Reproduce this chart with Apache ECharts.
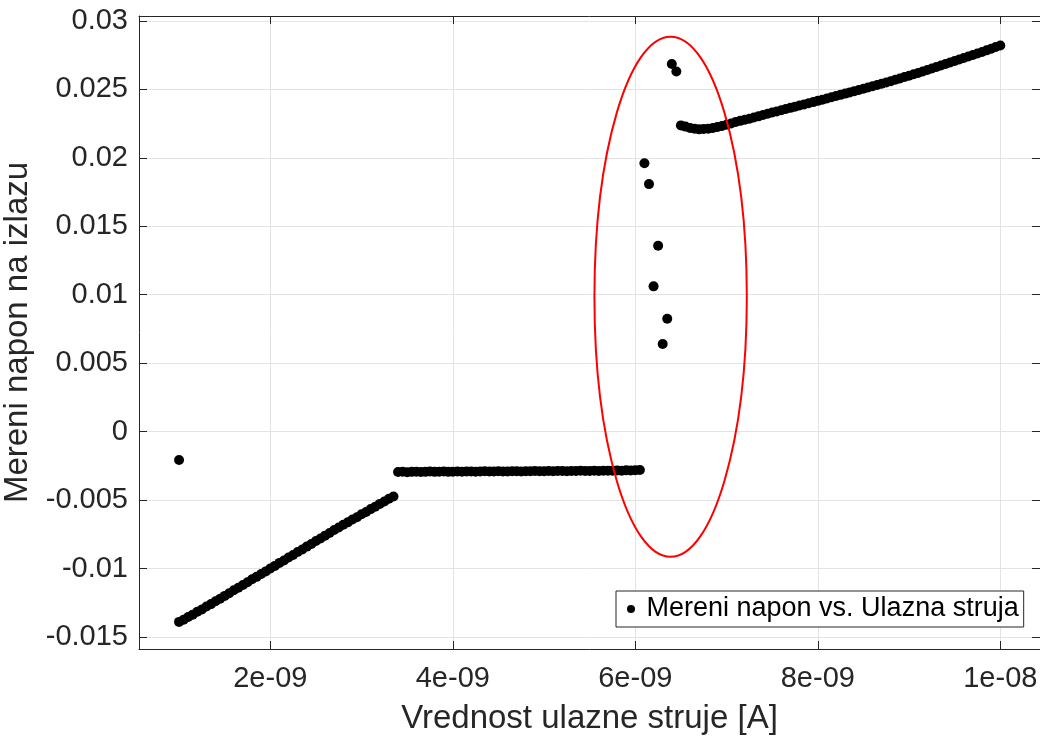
<!DOCTYPE html>
<html>
<head>
<meta charset="utf-8">
<script src="https://cdn.jsdelivr.net/npm/echarts@6/dist/echarts.min.js"></script>
<style>html,body{margin:0;padding:0;background:#fff;}#chart{width:1040px;height:736px;}</style>
</head>
<body>
<div id="chart"></div>
<script>
// ---------- data (current in A, voltage in V) ----------
const glitchCurrent = [1.00e-9];
const glitchVoltage = [-0.00207];

const rampCurrent = [1.00e-9,1.05e-9,1.10e-9,1.15e-9,1.20e-9,1.25e-9,1.30e-9,1.35e-9,1.40e-9,1.45e-9,
  1.50e-9,1.55e-9,1.60e-9,1.65e-9,1.70e-9,1.75e-9,1.80e-9,1.85e-9,1.90e-9,1.95e-9,
  2.00e-9,2.05e-9,2.10e-9,2.15e-9,2.20e-9,2.25e-9,2.30e-9,2.35e-9,2.40e-9,2.45e-9,
  2.50e-9,2.55e-9,2.60e-9,2.65e-9,2.70e-9,2.75e-9,2.80e-9,2.85e-9,2.90e-9,2.95e-9,
  3.00e-9,3.05e-9,3.10e-9,3.15e-9,3.20e-9,3.25e-9,3.30e-9,3.35e-9];
const rampVoltage = [-0.01390,-0.01374,-0.01354,-0.01337,-0.01316,-0.01299,-0.01278,-0.01260,-0.01239,-0.01221,
  -0.01200,-0.01181,-0.01159,-0.01141,-0.01120,-0.01101,-0.01079,-0.01061,-0.01040,-0.01021,
  -0.01000,-0.00981,-0.00959,-0.00941,-0.00920,-0.00901,-0.00879,-0.00861,-0.00840,-0.00821,
  -0.00799,-0.00781,-0.00760,-0.00741,-0.00719,-0.00701,-0.00680,-0.00663,-0.00642,-0.00625,
  -0.00604,-0.00587,-0.00566,-0.00549,-0.00528,-0.00511,-0.00491,-0.00474];

const plateauCurrent = [3.40e-9,3.45e-9,3.50e-9,3.55e-9,3.60e-9,3.65e-9,3.70e-9,3.75e-9,3.80e-9,3.85e-9,
  3.90e-9,3.95e-9,4.00e-9,4.05e-9,4.10e-9,4.15e-9,4.20e-9,4.25e-9,4.30e-9,4.35e-9,
  4.40e-9,4.45e-9,4.50e-9,4.55e-9,4.60e-9,4.65e-9,4.70e-9,4.75e-9,4.80e-9,4.85e-9,
  4.90e-9,4.95e-9,5.00e-9,5.05e-9,5.10e-9,5.15e-9,5.20e-9,5.25e-9,5.30e-9,5.35e-9,
  5.40e-9,5.45e-9,5.50e-9,5.55e-9,5.60e-9,5.65e-9,5.70e-9,5.75e-9,5.80e-9,5.85e-9,
  5.90e-9,5.95e-9,6.00e-9,6.05e-9];
const plateauVoltage = [-0.00295,-0.00293,-0.00296,-0.00294,-0.00293,-0.00295,-0.00294,-0.00292,-0.00294,-0.00293,
  -0.00292,-0.00294,-0.00293,-0.00291,-0.00293,-0.00292,-0.00291,-0.00293,-0.00292,-0.00290,
  -0.00292,-0.00291,-0.00290,-0.00292,-0.00291,-0.00289,-0.00290,-0.00291,-0.00289,-0.00290,
  -0.00288,-0.00290,-0.00289,-0.00288,-0.00289,-0.00287,-0.00288,-0.00289,-0.00287,-0.00288,
  -0.00286,-0.00288,-0.00287,-0.00285,-0.00287,-0.00286,-0.00285,-0.00286,-0.00284,-0.00285,
  -0.00283,-0.00284,-0.00282,-0.00281];

const transitionCurrent = [6.10e-9,6.15e-9,6.20e-9,6.25e-9,6.30e-9,6.35e-9,6.40e-9,6.45e-9];
const transitionVoltage = [0.01961,0.01808,0.01061,0.01358,0.00640,0.00825,0.02686,0.02630];

const upperCurrent = [6.50e-9,6.55e-9,6.60e-9,6.65e-9,6.70e-9,6.75e-9,6.80e-9,6.85e-9,6.90e-9,6.95e-9,
  7.00e-9,7.05e-9,7.10e-9,7.15e-9,7.20e-9,7.25e-9,7.30e-9,7.35e-9,7.40e-9,7.45e-9,
  7.50e-9,7.55e-9,7.60e-9,7.65e-9,7.70e-9,7.75e-9,7.80e-9,7.85e-9,7.90e-9,7.95e-9,
  8.00e-9,8.05e-9,8.10e-9,8.15e-9,8.20e-9,8.25e-9,8.30e-9,8.35e-9,8.40e-9,8.45e-9,
  8.50e-9,8.55e-9,8.60e-9,8.65e-9,8.70e-9,8.75e-9,8.80e-9,8.85e-9,8.90e-9,8.95e-9,
  9.00e-9,9.05e-9,9.10e-9,9.15e-9,9.20e-9,9.25e-9,9.30e-9,9.35e-9,9.40e-9,9.45e-9,
  9.50e-9,9.55e-9,9.60e-9,9.65e-9,9.70e-9,9.75e-9,9.80e-9,9.85e-9,9.90e-9,9.95e-9,
  10.00e-9];
const upperVoltage = [0.02237,0.02228,0.02218,0.02212,0.02208,0.02210,0.02213,0.02218,0.02225,0.02232,
  0.02241,0.02251,0.02262,0.02270,0.02278,0.02286,0.02294,0.02303,0.02313,0.02322,
  0.02331,0.02339,0.02348,0.02356,0.02365,0.02373,0.02382,0.02390,0.02399,0.02407,
  0.02416,0.02424,0.02433,0.02442,0.02451,0.02460,0.02469,0.02478,0.02487,0.02496,
  0.02505,0.02514,0.02523,0.02532,0.02541,0.02550,0.02560,0.02570,0.02580,0.02590,
  0.02600,0.02610,0.02620,0.02630,0.02641,0.02652,0.02663,0.02674,0.02685,0.02696,
  0.02707,0.02718,0.02729,0.02740,0.02751,0.02762,0.02773,0.02785,0.02797,0.02809,
  0.02821];

const xTickValues = [2e-9, 4e-9, 6e-9, 8e-9, 1e-8];
const xTickLabels = ['2e-09', '4e-09', '6e-09', '8e-09', '1e-08'];
const yTickValues = [-0.015, -0.01, -0.005, 0, 0.005, 0.01, 0.015, 0.02, 0.025, 0.03];
const yTickLabels = ['-0.015', '-0.01', '-0.005', '0', '0.005', '0.01', '0.015', '0.02', '0.025', '0.03'];

const seriesName = 'Mereni napon vs. Ulazna struja';
const xTitle = 'Vrednost ulazne struje [A]';
const yTitle = 'Mereni napon na izlazu';

// highlighted region (ellipse centre and semi-axes, data units)
const ellipseCenter = [6.387e-9, 0.00985];
const ellipseRadius = [0.835e-9, 0.0190];

// ---------- build ----------
function pairs(xs, ys) { return xs.map((x, i) => [x, ys[i]]); }
const points = [].concat(
  pairs(glitchCurrent, glitchVoltage),
  pairs(rampCurrent, rampVoltage),
  pairs(plateauCurrent, plateauVoltage),
  pairs(transitionCurrent, transitionVoltage),
  pairs(upperCurrent, upperVoltage)
);

function lookup(vals, labels, v) {
  for (let i = 0; i < vals.length; i++) {
    if (Math.abs(vals[i] - v) <= Math.abs(vals[i]) * 1e-6 + 1e-12) return labels[i];
  }
  return '';
}

const FONT = "'Liberation Sans', Arial, Helvetica, sans-serif";
const AXIS_COLOR = '#262626';
const GRID_COLOR = '#e3e3e3';
const X_MIN = 0.561e-9, X_MAX = 10.435e-9;
const Y_MIN = -0.01588, Y_MAX = 0.03036;

const chart = echarts.init(document.getElementById('chart'), null, { renderer: 'canvas' });

const baseX = {
  type: 'value', min: X_MIN, max: X_MAX,
  axisLine: { show: true, lineStyle: { color: AXIS_COLOR, width: 1 } },
  axisTick: { show: true, inside: true, length: 8, customValues: xTickValues, lineStyle: { color: AXIS_COLOR } },
};
const baseY = {
  type: 'value', min: Y_MIN, max: Y_MAX,
  axisLine: { show: true, onZero: false, lineStyle: { color: AXIS_COLOR, width: 1 } },
  axisTick: { show: true, inside: true, length: 8, customValues: yTickValues, lineStyle: { color: AXIS_COLOR } },
};

chart.setOption({
  animation: false,
  backgroundColor: '#ffffff',
  textStyle: { fontFamily: FONT },
  grid: { left: 139, right: 0, top: 16, bottom: 87, containLabel: false, outerBoundsMode: 'none' },
  xAxis: [
    Object.assign({}, baseX, {
      position: 'bottom',
      axisLine: { show: true, onZero: false, lineStyle: { color: AXIS_COLOR, width: 1 } },
      name: xTitle, nameLocation: 'middle', nameGap: 53,
      nameTextStyle: { fontSize: 33, color: AXIS_COLOR, fontFamily: FONT },
      axisLabel: { show: true, customValues: xTickValues, margin: 15, fontSize: 29, color: AXIS_COLOR, fontFamily: FONT,
        formatter: v => lookup(xTickValues, xTickLabels, v) },
      splitLine: { show: true, lineStyle: { color: GRID_COLOR, width: 1 } }
    }),
    Object.assign({}, baseX, {
      position: 'top',
      axisLine: { show: true, onZero: false, lineStyle: { color: AXIS_COLOR, width: 1 } },
      axisLabel: { show: false },
      splitLine: { show: false }
    })
  ],
  yAxis: [
    Object.assign({}, baseY, {
      position: 'left',
      name: yTitle, nameLocation: 'middle', nameGap: 89,
      nameTextStyle: { fontSize: 33, color: AXIS_COLOR, fontFamily: FONT },
      axisLabel: { show: true, customValues: yTickValues, margin: 11, fontSize: 29, color: AXIS_COLOR, fontFamily: FONT,
        formatter: v => lookup(yTickValues, yTickLabels, v) },
      splitLine: { show: true, lineStyle: { color: GRID_COLOR, width: 1 } }
    }),
    Object.assign({}, baseY, {
      position: 'right',
      axisLabel: { show: false },
      splitLine: { show: false }
    })
  ],
  legend: {
    show: true,
    data: [seriesName],
    left: 616, top: 591,
    icon: 'circle',
    itemWidth: 21, itemHeight: 8,
    padding: [3, 5, 3, 11],
    borderColor: AXIS_COLOR, borderWidth: 1, borderRadius: 0,
    backgroundColor: '#ffffff',
    textStyle: { fontSize: 27, color: '#000000', fontFamily: FONT, lineHeight: 30 }
  },
  series: [{
    name: seriesName,
    type: 'scatter',
    xAxisIndex: 0, yAxisIndex: 0,
    data: points,
    symbol: 'circle',
    symbolSize: 10,
    itemStyle: { color: '#000000', opacity: 1 },
    emphasis: { disabled: true },
    z: 3
  }]
});

// ellipse placed through the chart's own coordinate conversion
const c = chart.convertToPixel({ gridIndex: 0 }, ellipseCenter);
const e = chart.convertToPixel({ gridIndex: 0 }, [ellipseCenter[0] + ellipseRadius[0], ellipseCenter[1] + ellipseRadius[1]]);
chart.setOption({
  graphic: [{
    type: 'ellipse',
    shape: { cx: c[0], cy: c[1], rx: Math.abs(e[0] - c[0]), ry: Math.abs(e[1] - c[1]) },
    style: { fill: null, stroke: '#ff0000', lineWidth: 2 },
    z: 10, silent: true
  }]
});
</script>
</body>
</html>
